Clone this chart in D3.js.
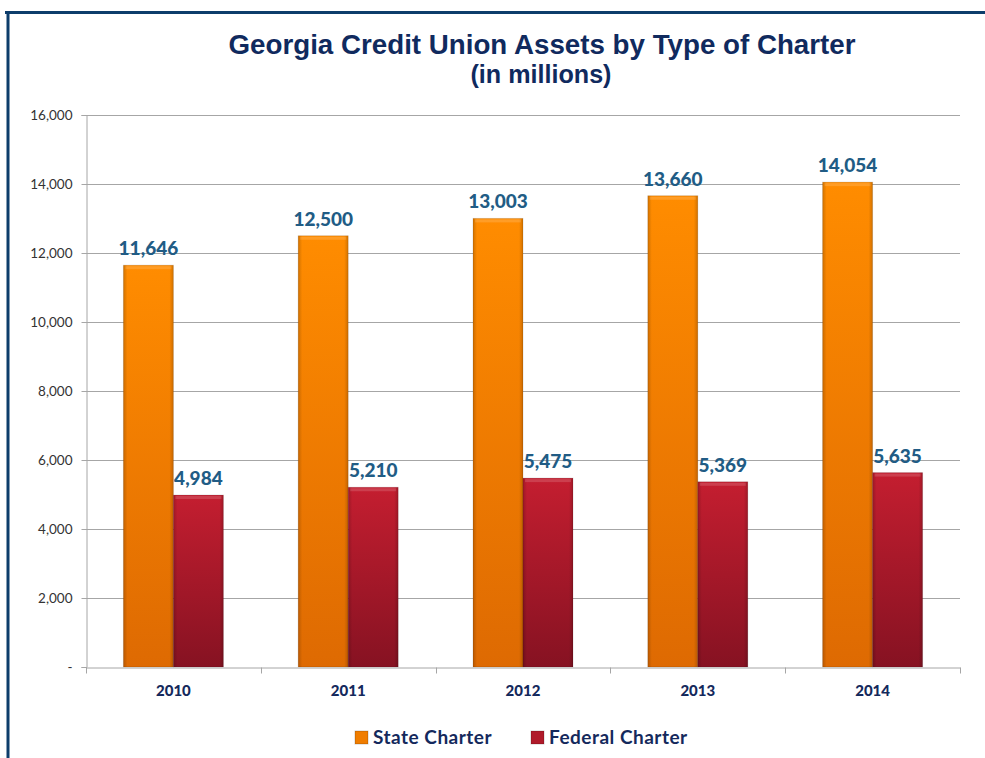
<!DOCTYPE html>
<html>
<head>
<meta charset="utf-8">
<script src="https://cdn.jsdelivr.net/npm/d3@7"></script>
<style>
  html, body { margin: 0; padding: 0; background: #fff; }
  svg { display: block; }
</style>
</head>
<body>
<svg id="chart" width="985" height="758"></svg>
<script>
const years = ['2010', '2011', '2012', '2013', '2014'];
const seriesNames = ['State Charter', 'Federal Charter'];
const stateValues = [11646, 12500, 13003, 13660, 14054];
const federalValues = [4984, 5210, 5475, 5369, 5635];
const yTicks = [0, 2000, 4000, 6000, 8000, 10000, 12000, 14000, 16000];

const svg = d3.select('#chart');
const margin = { top: 115, right: 25, bottom: 91, left: 86 };
const width = 985 - margin.left - margin.right;
const height = 758 - margin.top - margin.bottom;

const rows = years.map((y, i) => ({ year: y, values: [stateValues[i], federalValues[i]] }));

// frame lines
svg.append('line')
  .attr('x1', 5).attr('x2', 985).attr('y1', 12.5).attr('y2', 12.5)
  .attr('stroke', '#0d3d6b').attr('stroke-width', 3);
svg.append('line')
  .attr('x1', 8).attr('x2', 8).attr('y1', 11).attr('y2', 758)
  .attr('stroke', '#0d3d6b').attr('stroke-width', 3);

// gradients
const defs = svg.append('defs');
const makeGrad = (id, top, bottom) => {
  const g = defs.append('linearGradient').attr('id', id)
    .attr('x1', 0).attr('y1', 0).attr('x2', 0).attr('y2', 1);
  g.append('stop').attr('offset', '0%').attr('stop-color', top);
  g.append('stop').attr('offset', '100%').attr('stop-color', bottom);
};
makeGrad('gradState', '#ff8c00', '#de6a02');
makeGrad('gradFed', '#c41e30', '#861222');
const side = defs.append('linearGradient').attr('id', 'gradSide')
  .attr('x1', 0).attr('y1', 0).attr('x2', 1).attr('y2', 0);
side.append('stop').attr('offset', '0%').attr('stop-color', '#000').attr('stop-opacity', 0.18);
side.append('stop').attr('offset', '8%').attr('stop-color', '#000').attr('stop-opacity', 0);
side.append('stop').attr('offset', '92%').attr('stop-color', '#000').attr('stop-opacity', 0);
side.append('stop').attr('offset', '100%').attr('stop-color', '#000').attr('stop-opacity', 0.18);
const fills = ['url(#gradState)', 'url(#gradFed)'];
const legendFills = ['#f07d00', '#b01a2a'];

// title
svg.append('text')
  .attr('x', 542).attr('y', 54)
  .attr('text-anchor', 'middle')
  .attr('font-family', 'Liberation Sans, Arial, sans-serif')
  .attr('font-weight', 700).attr('font-size', 27)
  .attr('fill', '#102a5e')
  .attr('textLength', 627).attr('lengthAdjust', 'spacingAndGlyphs')
  .text('Georgia Credit Union Assets by Type of Charter');
svg.append('text')
  .attr('x', 541).attr('y', 83)
  .attr('text-anchor', 'middle')
  .attr('font-family', 'Liberation Sans, Arial, sans-serif')
  .attr('font-weight', 700).attr('font-size', 25)
  .attr('fill', '#102a5e')
  .attr('textLength', 141).attr('lengthAdjust', 'spacingAndGlyphs')
  .text('(in millions)');

const g = svg.append('g').attr('transform', `translate(${margin.left},${margin.top})`);

const x0 = d3.scaleBand().domain(years).range([0, width]).padding(0);
const x1 = d3.scaleBand().domain(seriesNames).range([0, x0.bandwidth()])
  .paddingInner(0).paddingOuter(0.748);
const y = d3.scaleLinear().domain([0, 16000]).range([height, 0]);

// gridlines
g.append('g')
  .selectAll('line')
  .data(yTicks.filter(d => d > 0))
  .join('line')
  .attr('x1', 0).attr('x2', width)
  .attr('y1', d => Math.round(y(d)) + 0.5).attr('y2', d => Math.round(y(d)) + 0.5)
  .attr('stroke', '#a6a6a6').attr('stroke-width', 1);

// y axis
const yAxis = g.append('g')
  .attr('transform', 'translate(0.5,0)')
  .call(d3.axisLeft(y).tickValues(yTicks).tickSize(5).tickPadding(9)
    .tickFormat(d => d === 0 ? '-' : d3.format(',')(d)));
yAxis.select('.domain').attr('stroke', '#a6a6a6');
yAxis.selectAll('.tick line').attr('stroke', '#a6a6a6');
yAxis.selectAll('text')
  .attr('font-family', 'Lato, "Open Sans", sans-serif')
  .attr('font-size', 13.5).attr('fill', '#333');

// bars
const groups = g.append('g')
  .selectAll('g')
  .data(rows)
  .join('g')
  .attr('transform', d => `translate(${x0(d.year)},0)`);

const bars = groups.selectAll('g.bar')
  .data(d => d.values.map((v, i) => ({ name: seriesNames[i], value: v, idx: i })))
  .join('g').attr('class', 'bar');

bars.append('rect')
  .attr('x', d => x1(d.name))
  .attr('y', d => y(d.value))
  .attr('width', x1.bandwidth())
  .attr('height', d => y(0) - y(d.value))
  .attr('fill', d => fills[d.idx])
  .attr('stroke', '#000').attr('stroke-opacity', 0.12).attr('stroke-width', 1);
bars.append('rect')
  .attr('x', d => x1(d.name))
  .attr('y', d => y(d.value))
  .attr('width', x1.bandwidth())
  .attr('height', d => y(0) - y(d.value))
  .attr('fill', 'url(#gradSide)');
bars.append('rect')
  .attr('x', d => x1(d.name) + 2)
  .attr('y', d => y(d.value) + 1)
  .attr('width', x1.bandwidth() - 4)
  .attr('height', 3)
  .attr('fill', '#fff').attr('fill-opacity', 0.15);

bars.append('text')
  .attr('x', d => x1(d.name) + x1.bandwidth() / 2)
  .attr('y', d => y(d.value) - 10)
  .attr('text-anchor', 'middle')
  .attr('font-family', 'Lato, "Open Sans", sans-serif')
  .attr('font-weight', 900).attr('font-size', 19)
  .attr('fill', '#215c85')
  .text(d => d3.format(',')(d.value));

// x axis
const xAxis = g.append('g')
  .attr('transform', `translate(0,${height + 0.5})`)
  .call(d3.axisBottom(x0).tickSize(0).tickPadding(18));
xAxis.select('.domain').attr('stroke', '#a6a6a6');
xAxis.selectAll('text')
  .attr('font-family', 'Lato, "Open Sans", sans-serif')
  .attr('font-weight', 900).attr('font-size', 15)
  .attr('fill', '#14295c');
xAxis.append('g')
  .selectAll('line')
  .data(d3.range(years.length + 1))
  .join('line')
  .attr('x1', i => Math.round(i * x0.step()) + 0.5)
  .attr('x2', i => Math.round(i * x0.step()) + 0.5)
  .attr('y1', 0).attr('y2', 6)
  .attr('stroke', '#a6a6a6');

// legend
const legendX = [355, 531];
const legend = svg.append('g')
  .selectAll('g')
  .data(seriesNames)
  .join('g')
  .attr('transform', (d, i) => `translate(${legendX[i]},731)`);
legend.append('rect')
  .attr('width', 13).attr('height', 13)
  .attr('fill', (d, i) => legendFills[i])
  .attr('stroke', '#000').attr('stroke-opacity', 0.2);
legend.append('text')
  .attr('x', 18).attr('y', 13)
  .attr('font-family', 'Lato, "Open Sans", sans-serif')
  .attr('font-weight', 700).attr('font-size', 19)
  .attr('letter-spacing', 0.5)
  .attr('fill', '#14295c')
  .text(d => d);
</script>
</body>
</html>
